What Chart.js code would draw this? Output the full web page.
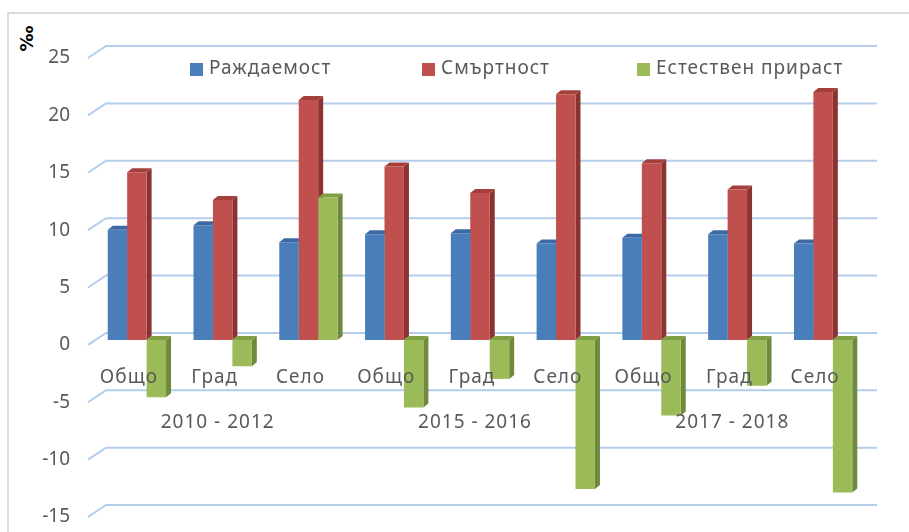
<!DOCTYPE html>
<html>
<head>
<meta charset="utf-8">
<script src="https://cdn.jsdelivr.net/npm/chart.js@4"></script>
<style>
  html, body { margin: 0; padding: 0; background: #fff; }
  #wrap { position: relative; width: 909px; height: 532px; overflow: hidden; }
  #frame { position: absolute; left: 7px; top: 12px; width: 910px; height: 530px; border: 2px solid #dcdcdc; box-sizing: border-box; }
  #unit { position: absolute; left: 14px; top: 28px; font: bold 18px "DejaVu Sans", sans-serif; color: #000; transform: rotate(-90deg); transform-origin: center; }
  canvas { position: absolute; left: 0; top: 0; }
</style>
</head>
<body>
<div id="wrap">
  <div id="frame"></div>
  <div id="unit">‰</div>
  <canvas id="chart" width="909" height="532"></canvas>
</div>
<script>
// ---- data ----
const groups = ['2010 - 2012', '2015 - 2016', '2017 - 2018'];
const places = ['Общо', 'Град', 'Село'];
const categories = ['Общо', 'Град', 'Село', 'Общо', 'Град', 'Село', 'Общо', 'Град', 'Село'];
const birthRate = [9.6, 10.0, 8.5, 9.2, 9.3, 8.4, 8.9, 9.2, 8.4];
const deathRate = [14.6, 12.2, 20.9, 15.1, 12.8, 21.4, 15.4, 13.1, 21.6];
const naturalGrowth = [-5.0, -2.3, 12.4, -5.9, -3.4, -13.0, -6.6, -4.0, -13.3];
const seriesNames = ['Раждаемост', 'Смъртност', 'Естествен прираст'];
const yMin = -15, yMax = 25, yStep = 5;

const faceColors = ['#4a7ebb', '#c0504d', '#9bbb59'];
const sideColors = ['#36609a', '#8a3331', '#6f8a3c'];
const topColors = ['#3d6aa5', '#a43f3c', '#809f45'];
const textColor = '#595959';
const fontFamily = '"Noto Sans", "Open Sans", sans-serif';

/* =============================== */
/* back wall grid + 3D bar faces */
/* =============================== */
const backGrid = {
  id: 'backGrid',
  beforeDatasetsDraw(chart) {
    const { ctx, chartArea, scales } = chart;
    ctx.save();
    ctx.strokeStyle = '#b3cdeb';
    ctx.lineWidth = 2;
    for (let v = yMin; v <= yMax; v += yStep) {
      const y = scales.y.getPixelForValue(v);
      ctx.beginPath();
      ctx.moveTo(chartArea.left - 6, y + 5);
      ctx.lineTo(chartArea.left + 12, y - 7);
      ctx.lineTo(chartArea.right + 11, y - 7);
      ctx.stroke();
    }
    // side and top faces go under the front faces
    const dx = 5, dy = 4;
    chart.data.datasets.forEach((ds, i) => {
      const meta = chart.getDatasetMeta(i);
      meta.data.forEach(bar => {
        const half = bar.width / 2;
        const l = bar.x - half, r = bar.x + half;
        const top = Math.min(bar.y, bar.base), bot = Math.max(bar.y, bar.base);
        ctx.fillStyle = sideColors[i];
        ctx.beginPath();
        ctx.moveTo(r, top);
        ctx.lineTo(r + dx, top - dy);
        ctx.lineTo(r + dx, bot - dy);
        ctx.lineTo(r, bot);
        ctx.closePath();
        ctx.fill();
        ctx.fillStyle = topColors[i];
        ctx.beginPath();
        ctx.moveTo(l, top);
        ctx.lineTo(l + dx, top - dy);
        ctx.lineTo(r + dx, top - dy);
        ctx.lineTo(r, top);
        ctx.closePath();
        ctx.fill();
      });
    });
    ctx.restore();
  }
};

/* =============================== */
/* category labels + legend inside the plot */
/* =============================== */
const innerLabels = {
  id: 'innerLabels',
  afterDatasetsDraw(chart) {
    const { ctx, scales } = chart;
    ctx.save();
    ctx.fillStyle = textColor;
    ctx.font = '19px ' + fontFamily;
    ctx.letterSpacing = '1px';
    ctx.textAlign = 'center';
    ctx.textBaseline = 'middle';
    const yCat = scales.y.getPixelForValue(-3.3);
    categories.forEach((c, i) => {
      ctx.fillText(c, scales.x.getPixelForValue(i) - 8, yCat);
    });
    const yGrp = scales.y.getPixelForValue(-7.2);
    groups.forEach((g, gi) => {
      ctx.fillText(g, scales.x.getPixelForValue(gi * places.length + 1) - 5, yGrp);
    });

    const legendX = [190, 422, 637];
    const yLeg = 69;
    ctx.textAlign = 'left';
    chart.data.datasets.forEach((ds, i) => {
      ctx.fillStyle = faceColors[i];
      ctx.fillRect(legendX[i], yLeg - 6, 13, 13);
      ctx.fillStyle = textColor;
      ctx.fillText(ds.label, legendX[i] + 19, yLeg);
    });
    ctx.restore();
  }
};

new Chart(document.getElementById('chart'), {
  type: 'bar',
  data: {
    labels: categories,
    datasets: [
      { label: seriesNames[0], data: birthRate, backgroundColor: faceColors[0] },
      { label: seriesNames[1], data: deathRate, backgroundColor: faceColors[1] },
      { label: seriesNames[2], data: naturalGrowth, backgroundColor: faceColors[2] }
    ]
  },
  options: {
    responsive: false,
    animation: false,
    layout: { padding: { left: 34, right: 43, top: 53, bottom: 20 } },
    datasets: { bar: { categoryPercentage: 0.68, barPercentage: 1.0 } },
    plugins: { legend: { display: false }, tooltip: { enabled: false } },
    scales: {
      x: { display: false },
      y: {
        min: yMin, max: yMax,
        afterFit(scale) {
          scale.width = 60;
          scale.paddingTop = 0;
          scale.paddingBottom = 0;
        },
        grid: { display: false },
        border: { display: false },
        ticks: {
          stepSize: yStep,
          padding: 16,
          labelOffset: 5,
          color: textColor,
          font: { size: 19, family: fontFamily }
        }
      }
    }
  },
  plugins: [backGrid, innerLabels]
});
</script>
</body>
</html>
